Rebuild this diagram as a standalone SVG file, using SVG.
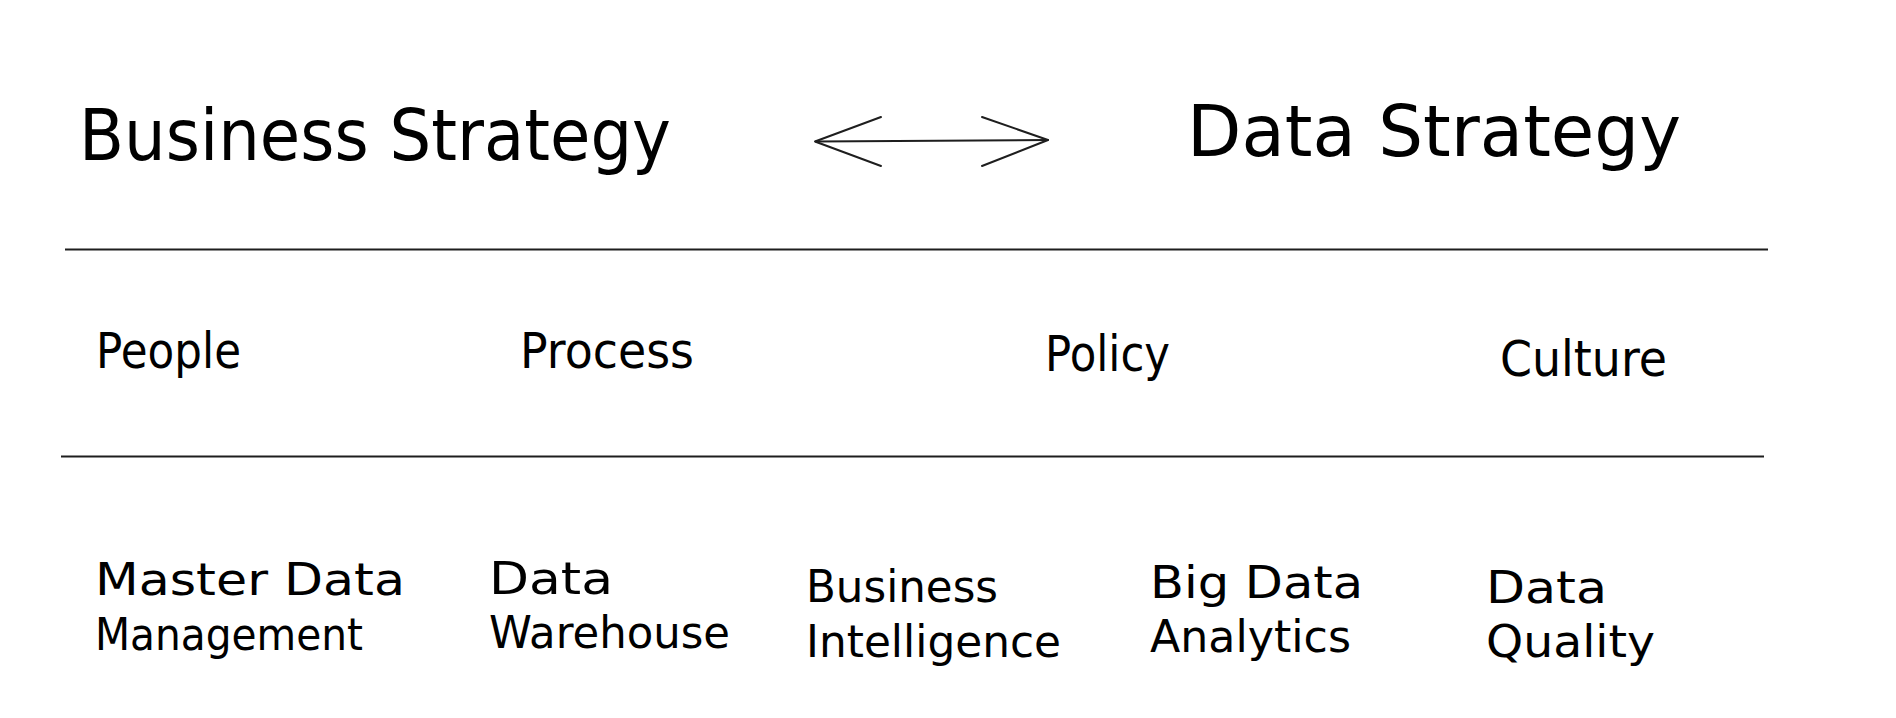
<svg xmlns="http://www.w3.org/2000/svg" width="1896" height="718" viewBox="0 0 1896 718">
  <style>
    text { font-family: "DejaVu Sans", "Liberation Sans", sans-serif; fill: #000; }
    .title { font-size: 72px; }
    .cat { font-size: 50px; }
    .item { font-size: 45px; }
    .rule { stroke: #1e1e1e; stroke-width: 2.2; fill: none; }
    .conn { stroke: #1e1e1e; stroke-width: 2; fill: none; stroke-linecap: round; stroke-linejoin: round; }
  </style>
  <rect width="1896" height="718" fill="#ffffff"/>

  <g id="business-strategy">
    <text class="title" x="79" y="160" textLength="592" lengthAdjust="spacingAndGlyphs">Business Strategy</text>
  </g>
  <g id="data-strategy">
    <text class="title" x="1187" y="156" textLength="494" lengthAdjust="spacingAndGlyphs">Data Strategy</text>
  </g>

  <g id="connectors">
    <path class="conn" d="M816 141.5 L1048 140"/>
    <path class="conn" d="M881 117 L815 141.5 L881 166"/>
    <path class="conn" d="M982 117 L1048 140 L982 166"/>
  </g>

  <g id="separators">
    <line class="rule" x1="65" y1="249.5" x2="1768" y2="249.5"/>
    <line class="rule" x1="61" y1="456.5" x2="1764" y2="456.5"/>
  </g>

  <g id="people">
    <text class="cat" x="96" y="368" textLength="145" lengthAdjust="spacingAndGlyphs">People</text>
  </g>
  <g id="process">
    <text class="cat" x="520" y="368" textLength="174" lengthAdjust="spacingAndGlyphs">Process</text>
  </g>
  <g id="policy">
    <text class="cat" x="1045" y="371" textLength="125" lengthAdjust="spacingAndGlyphs">Policy</text>
  </g>
  <g id="culture">
    <text class="cat" x="1500" y="376" textLength="167" lengthAdjust="spacingAndGlyphs">Culture</text>
  </g>

  <g id="master-data-management">
    <text class="item" x="95" y="595" textLength="310" lengthAdjust="spacingAndGlyphs">Master Data</text>
    <text class="item" x="95" y="650" textLength="268" lengthAdjust="spacingAndGlyphs">Management</text>
  </g>
  <g id="data-warehouse">
    <text class="item" x="489" y="594" textLength="124" lengthAdjust="spacingAndGlyphs">Data</text>
    <text class="item" x="489" y="648" textLength="241" lengthAdjust="spacingAndGlyphs">Warehouse</text>
  </g>
  <g id="business-intelligence">
    <text class="item" x="806" y="602" textLength="192" lengthAdjust="spacingAndGlyphs">Business</text>
    <text class="item" x="806" y="657" textLength="255" lengthAdjust="spacingAndGlyphs">Intelligence</text>
  </g>
  <g id="big-data-analytics">
    <text class="item" x="1150" y="598" textLength="213" lengthAdjust="spacingAndGlyphs">Big Data</text>
    <text class="item" x="1150" y="652" textLength="201" lengthAdjust="spacingAndGlyphs">Analytics</text>
  </g>
  <g id="data-quality">
    <text class="item" x="1486" y="603" textLength="121" lengthAdjust="spacingAndGlyphs">Data</text>
    <text class="item" x="1486" y="657" textLength="169" lengthAdjust="spacingAndGlyphs">Quality</text>
  </g>
</svg>
